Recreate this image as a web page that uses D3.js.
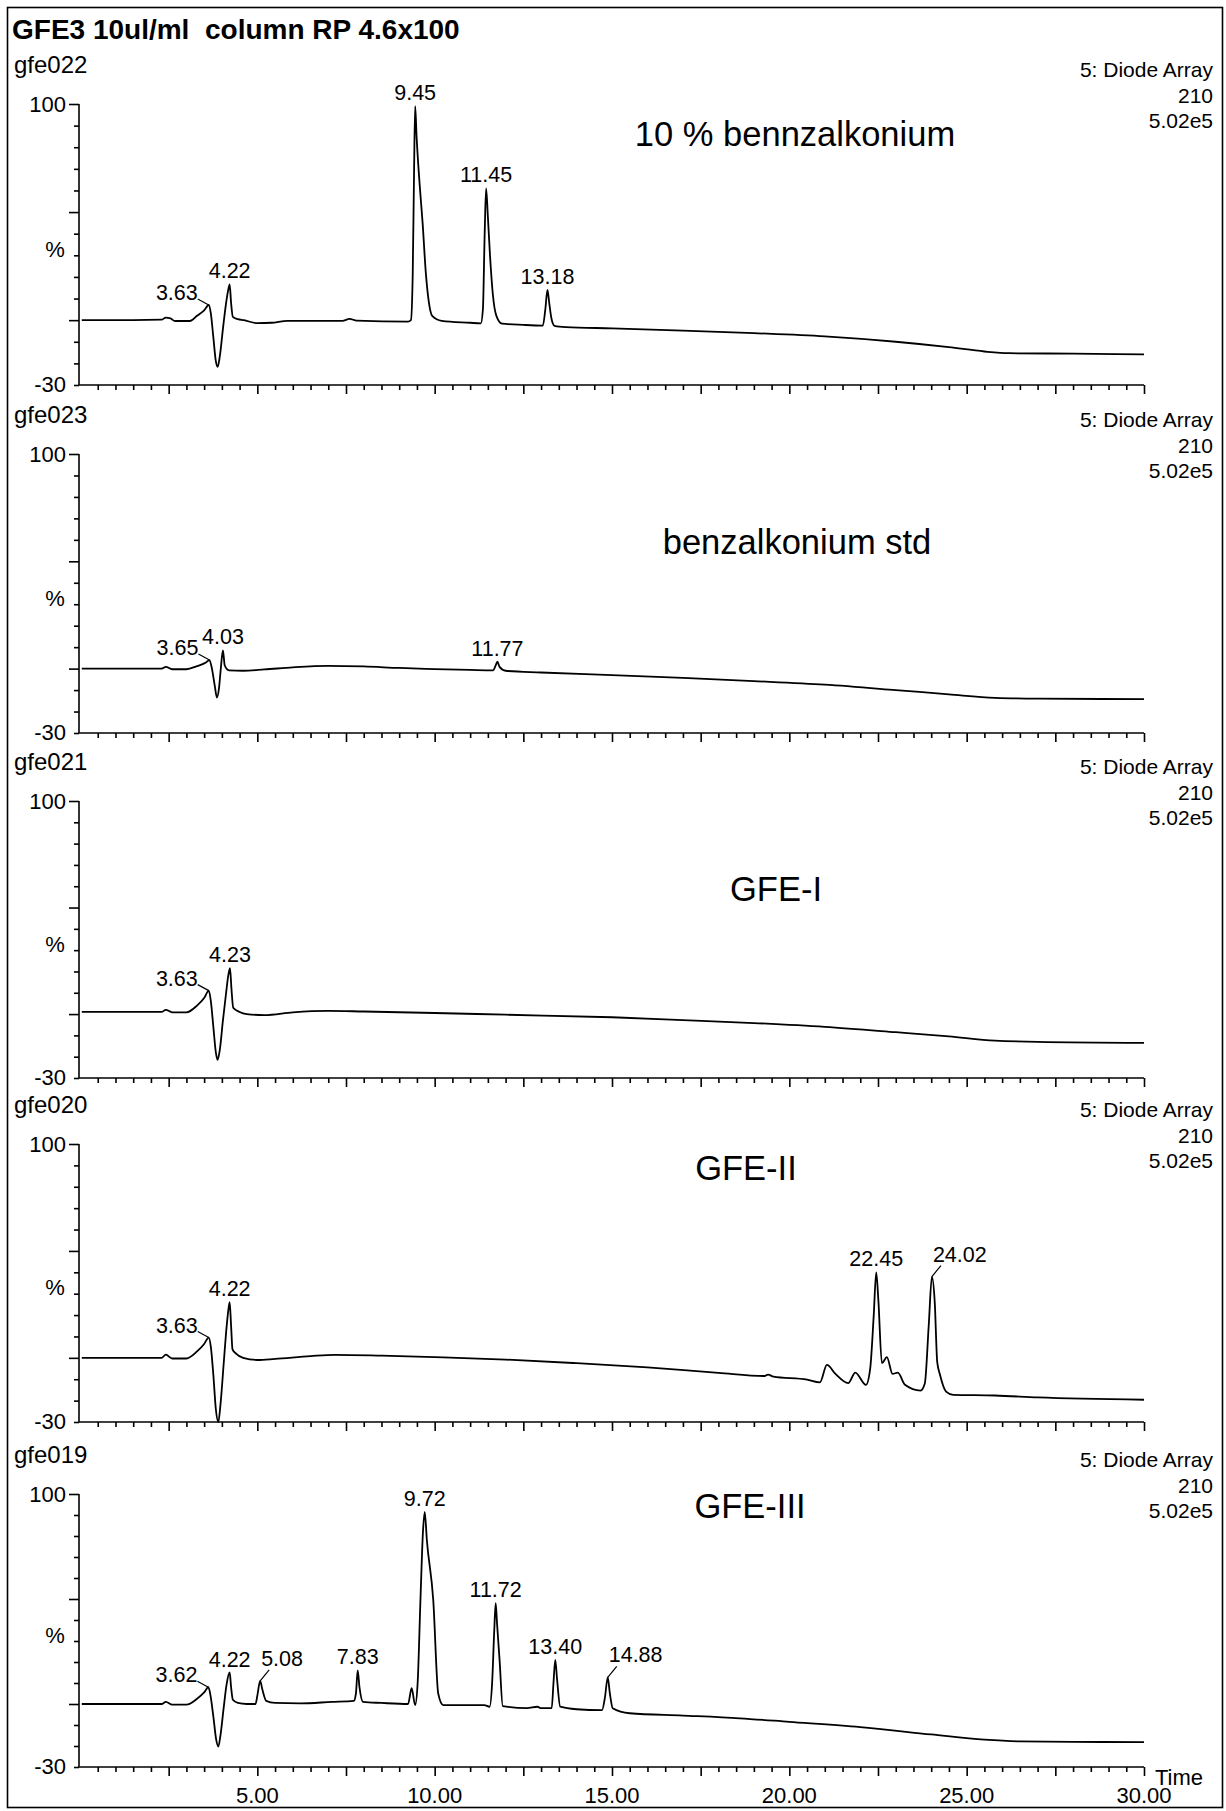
<!DOCTYPE html>
<html><head><meta charset="utf-8">
<script src="https://cdn.jsdelivr.net/npm/d3@7"></script>
<style>
body{margin:0;background:#fff}
svg{display:block}
text{font-family:"Liberation Sans",Arial,Helvetica,sans-serif;fill:#000;white-space:pre}
</style>
</head><body>
<svg id="chart" width="1226" height="1811"></svg>
<script>
// ---------------- DATA ----------------
const chartTitle = "GFE3 10ul/ml  column RP 4.6x100";
const runIds = ["gfe022", "gfe023", "gfe021", "gfe020", "gfe019"];
const sampleNames = ["10 % bennzalkonium", "benzalkonium std", "GFE-I", "GFE-II", "GFE-III"];
const detectorLines = ["5: Diode Array", "210", "5.02e5"];
const yDomain = [-30, 100];
const yTickLabels = ["100", "-30"];
const yUnitLabel = "%";
const xDomain = [0, 30];
const xTickValues = [5, 10, 15, 20, 25, 30];
const xTickLabels = ["5.00", "10.00", "15.00", "20.00", "25.00", "30.00"];
const xAxisTitle = "Time";

// traces: [time (min), response (%)]
const trace022 = [[0.05,0],[1.5,0],[2.3,0.2],[2.42,1.2],[2.55,0.8],[2.68,-0.4],[3.1,-0.4],[3.3,2],[3.5,4.5],[3.63,7],[3.69,3],[3.76,-8],[3.83,-19],[3.88,-21.6],[3.94,-17],[4.03,-4],[4.12,8],[4.18,14],[4.22,16.5],[4.26,8],[4.31,1.5],[4.45,0.5],[4.62,0],[5.0,-1.4],[5.4,-1.2],[5.85,-0.3],[7.4,-0.3],[7.6,0.6],[7.8,-0.2],[9.25,-0.7],[9.33,0],[9.38,20],[9.42,70],[9.45,99],[9.49,85],[9.58,62],[9.66,45],[9.75,22],[9.83,9],[9.93,2],[10.2,-0.3],[11.0,-1.2],[11.3,-1.5],[11.36,5],[11.41,40],[11.45,61],[11.5,48],[11.56,30],[11.64,12],[11.74,2],[11.9,-1.6],[12.5,-2.2],[13.05,-2.5],[13.12,5],[13.18,14],[13.23,8],[13.29,1],[13.38,-2.6],[13.7,-3.2],[15,-3.8],[17,-4.8],[19,-6],[21,-7.5],[23,-10],[24.5,-12.5],[25.5,-14.5],[26.2,-15.3],[28,-15.5],[30,-15.8]];
const trace023 = [[0.05,0],[2.3,0],[2.42,0.8],[2.6,-0.3],[3.0,-0.3],[3.3,1.2],[3.55,2.8],[3.65,4],[3.72,0],[3.8,-8],[3.86,-13.5],[3.92,-9],[3.97,0],[4.03,8.5],[4.08,1.5],[4.2,-0.8],[4.6,-1],[5.2,-0.4],[6.0,0.6],[7.0,1.3],[8.0,1.0],[9.0,0.3],[10.0,-0.2],[11.0,-0.6],[11.65,-0.8],[11.72,1.5],[11.77,3.2],[11.83,0.8],[12.0,-1.0],[13.0,-1.8],[15,-3],[17,-4.3],[19,-5.8],[21,-7.5],[23,-10],[24.5,-12],[25.8,-13.6],[27,-14],[30,-14.2]];
const trace021 = [[0.05,1],[2.3,1],[2.42,2],[2.6,0.8],[3.0,0.8],[3.3,4],[3.5,7.5],[3.63,11],[3.69,6],[3.76,-6],[3.83,-18],[3.88,-21.5],[3.94,-17],[4.03,-3],[4.12,10],[4.18,18],[4.23,21.5],[4.27,12],[4.32,3],[4.5,1],[4.7,0],[5.2,-0.5],[6,0.8],[7,1.5],[8,1.2],[10,0.5],[12,-0.3],[15,-1.5],[17,-2.8],[19,-4.2],[21,-6],[23,-8.5],[24.5,-10.5],[25.8,-12.5],[27,-13],[30,-13.5]];
const trace020 = [[0.05,0],[2.3,0],[2.42,1.5],[2.6,-0.3],[3.0,-0.3],[3.3,3],[3.5,6.5],[3.63,9.5],[3.69,5],[3.76,-8],[3.83,-24],[3.9,-30],[3.96,-22],[4.05,-3],[4.12,12],[4.18,22],[4.22,26],[4.26,15],[4.3,4],[4.4,2],[4.6,0],[5.0,-1],[5.5,-0.5],[6.5,0.8],[7.2,1.4],[8.5,1.0],[10,0.3],[12,-0.8],[14,-2.5],[16,-4.5],[18,-7],[19.3,-8.5],[19.4,-7.8],[19.55,-8.8],[20.5,-10.2],[20.86,-11.5],[21.06,-3.3],[21.3,-7.5],[21.66,-11.8],[21.86,-6.9],[22.16,-12.6],[22.28,-5],[22.38,20],[22.45,40],[22.51,27],[22.61,-2.5],[22.75,0.3],[22.91,-7.5],[23.06,-6.9],[23.26,-12.6],[23.7,-15.3],[23.82,-12],[23.93,15],[24.02,38],[24.1,26],[24.17,-2],[24.25,-8],[24.42,-15.8],[24.62,-17.3],[25.8,-17.6],[27,-18.5],[30,-19.6]];
const trace019 = [[0.05,0],[2.3,0],[2.42,1],[2.6,-0.3],[3.0,-0.3],[3.3,2.5],[3.5,5.5],[3.62,8],[3.68,4],[3.76,-6],[3.84,-17],[3.9,-20.3],[3.96,-15],[4.05,-2],[4.13,9],[4.22,15],[4.26,8],[4.31,2],[4.45,0.5],[4.7,0],[4.95,0],[5.0,4],[5.08,11],[5.14,7],[5.25,1.5],[5.5,0.5],[6.2,0.3],[7.1,1],[7.72,1.5],[7.78,5],[7.83,16],[7.88,8],[7.98,1],[8.5,0.5],[9.25,0],[9.35,7.5],[9.45,-0.5],[9.52,10],[9.6,50],[9.67,82],[9.72,91.5],[9.78,78],[9.96,49.5],[10.1,5],[10.24,-0.5],[11.4,-0.5],[11.55,-1.3],[11.62,10],[11.68,35],[11.72,48],[11.76,38],[11.83,21],[11.92,-1],[12.6,-2],[12.9,-1.3],[13.0,-2],[13.3,-2],[13.35,10],[13.4,21],[13.45,12],[13.54,-1.3],[14.0,-2.5],[14.72,-2.9],[14.8,3],[14.88,12.7],[14.94,5],[15.02,-2],[15.5,-4.4],[17,-5.5],[18.6,-6.8],[20,-8.5],[22,-11],[24,-14.5],[25.5,-17],[26.5,-17.8],[28,-18],[30,-18.2]];
const traces = [trace022, trace023, trace021, trace020, trace019];

const peaks022 = ["3.63", "4.22", "9.45", "11.45", "13.18"];
const peaks023 = ["3.65", "4.03", "11.77"];
const peaks021 = ["3.63", "4.23"];
const peaks020 = ["3.63", "4.22", "22.45", "24.02"];
const peaks019 = ["3.62", "4.22", "5.08", "7.83", "9.72", "11.72", "13.40", "14.88"];
const peakLabels = [peaks022, peaks023, peaks021, peaks020, peaks019];

// ---------------- LAYOUT ----------------
const W = 1226, H = 1811;
const panelTop = [104, 454, 801, 1144, 1494];
const panelBottom = [385, 733, 1078, 1422, 1767];
const annX = [795, 797, 776, 746, 750];
const annDy = [42, 100, 100, 36, 24];
const leftLeader = new Set(["3.63", "3.65", "3.62"]);
const rightLeader = new Set(["24.02", "14.88", "5.08"]);
const FONT_TICK = 22, FONT_PEAK = 21.5;

const svg = d3.select("#chart");
svg.append("rect").attr("width", W).attr("height", H).attr("fill", "#fff");
svg.append("rect").attr("x", 7.5).attr("y", 7.5).attr("width", 1215).attr("height", 1800)
  .attr("fill", "none").attr("stroke", "#000").attr("stroke-width", 1.6);

svg.append("text").attr("x", 12).attr("y", 39).attr("font-size", 28).attr("font-weight", "bold").text(chartTitle);

const x = d3.scaleLinear().domain(xDomain).range([80, 1144]);

traces.forEach((trace, i) => {
  const top = panelTop[i], bottom = panelBottom[i];
  const y = d3.scaleLinear().domain(yDomain).range([bottom, top]);
  const g = svg.append("g");

  // run id
  g.append("text").attr("x", 14).attr("y", top - 31).attr("font-size", 24).text(runIds[i]);
  // detector info
  detectorLines.forEach((s, k) => {
    g.append("text").attr("x", 1213).attr("y", top - 27 + k * 25.5).attr("text-anchor", "end")
      .attr("font-size", 21).text(s);
  });
  // sample name
  g.append("text").attr("x", annX[i]).attr("y", top + annDy[i]).attr("text-anchor", "middle")
    .attr("font-size", 34.5).text(sampleNames[i]);

  // y axis
  const yTicks = d3.range(yDomain[0], yDomain[1] + 1, 10);
  const yAxis = d3.axisLeft(y).tickValues(yTicks).tickSize(5).tickFormat("");
  const ya = g.append("g").attr("transform", "translate(79,0)").call(yAxis);
  ya.select(".domain").attr("stroke", "#000").attr("stroke-width", 1.6).attr("d", `M0,${top}V${bottom}`);
  ya.selectAll(".tick line").attr("stroke", "#000").attr("stroke-width", 1.6)
    .attr("x2", d => (d === 100 || d === 50 || d === 0) ? -10 : -5);
  g.append("text").attr("x", 66).attr("y", y(100)).attr("dy", "0.36em").attr("text-anchor", "end")
    .attr("font-size", FONT_TICK).text(yTickLabels[0]);
  g.append("text").attr("x", 66).attr("y", y(-30)).attr("dy", "0.3em").attr("text-anchor", "end")
    .attr("font-size", FONT_TICK).text(yTickLabels[1]);
  g.append("text").attr("x", 55).attr("y", y(33)).attr("dy", "0.36em").attr("text-anchor", "middle")
    .attr("font-size", FONT_TICK).text(yUnitLabel);

  // x axis
  const xTicks = d3.range(0.5, 30.01, 0.5);
  const xAxis = d3.axisBottom(x).tickValues(xTicks).tickSize(5).tickFormat("");
  const xa = g.append("g").attr("transform", `translate(0,${bottom})`).call(xAxis);
  xa.select(".domain").attr("stroke", "#000").attr("stroke-width", 1.6).attr("d", `M79,0H${x(30)}`);
  xa.selectAll(".tick line").attr("stroke", "#000").attr("stroke-width", 1.6)
    .attr("y2", d => (Math.abs(d / 2.5 - Math.round(d / 2.5)) < 1e-6) ? 9 : 5);
  if (i === traces.length - 1) {
    xTickValues.forEach((v, k) => {
      g.append("text").attr("x", x(v)).attr("y", bottom + 36).attr("text-anchor", "middle")
        .attr("font-size", FONT_TICK).text(xTickLabels[k]);
    });
    g.append("text").attr("x", x(30) + 11).attr("y", bottom + 18).attr("font-size", FONT_TICK).text(xAxisTitle);
  }

  // trace
  const line = d3.line().x(d => x(d[0])).y(d => y(d[1])).curve(d3.curveMonotoneX);
  g.append("path").datum(trace).attr("d", line).attr("fill", "none")
    .attr("stroke", "#000").attr("stroke-width", 1.8).attr("stroke-linejoin", "round");

  // peak labels
  peakLabels[i].forEach(lbl => {
    const t = +lbl;
    const pt = trace.reduce((a, b) => Math.abs(b[0] - t) < Math.abs(a[0] - t) ? b : a);
    const px = x(pt[0]), py = y(pt[1]);
    if (leftLeader.has(lbl)) {
      g.append("line").attr("x1", px - 11).attr("y1", py - 6).attr("x2", px).attr("y2", py)
        .attr("stroke", "#000").attr("stroke-width", 1.2);
      g.append("text").attr("x", px - 11).attr("y", py - 5).attr("text-anchor", "end")
        .attr("font-size", FONT_PEAK).text(lbl);
    } else if (rightLeader.has(lbl)) {
      g.append("line").attr("x1", px).attr("y1", py).attr("x2", px + 9).attr("y2", py - 11)
        .attr("stroke", "#000").attr("stroke-width", 1.2);
      g.append("text").attr("x", px + 1).attr("y", py - 15).attr("text-anchor", "start")
        .attr("font-size", FONT_PEAK).text(lbl);
    } else {
      g.append("text").attr("x", px).attr("y", py - 6).attr("text-anchor", "middle")
        .attr("font-size", FONT_PEAK).text(lbl);
    }
  });
});
</script>
</body></html>
